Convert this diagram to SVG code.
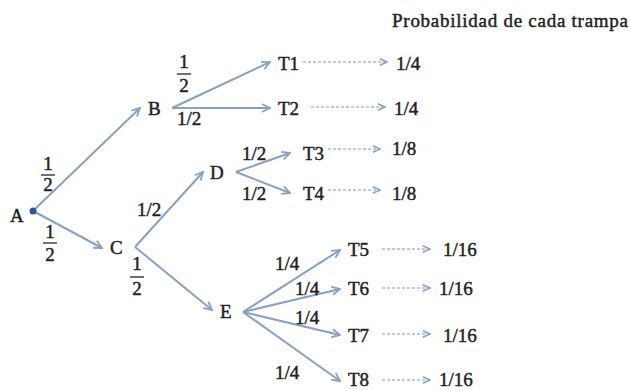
<svg xmlns="http://www.w3.org/2000/svg" width="630" height="391" viewBox="0 0 630 391">
<defs>
<marker id="ah" viewBox="0 0 10 10" refX="9" refY="5" markerWidth="10" markerHeight="10" markerUnits="userSpaceOnUse" orient="auto">
<path d="M1,1 L9,5 L1,9" fill="none" stroke="#8aa0bf" stroke-width="1.8"/>
</marker>
<marker id="ahd" viewBox="0 0 10 10" refX="9" refY="5" markerWidth="9" markerHeight="9" markerUnits="userSpaceOnUse" orient="auto">
<path d="M1,1.5 L9,5 L1,8.5" fill="none" stroke="#8ea2c0" stroke-width="1.8"/>
</marker>
</defs>
<style>
text{font-family:"Liberation Serif","Times New Roman",serif;font-size:19px;fill:#222;stroke:#222;stroke-width:0.45}
.e{stroke:#8aa0bf;stroke-width:2;fill:none;marker-end:url(#ah)}
.d{stroke:#8096b5;stroke-width:1.2;stroke-dasharray:3 2;fill:none;marker-end:url(#ahd)}
.bar{stroke:#222;stroke-width:1.3}
.m{text-anchor:middle}
</style>
<rect width="630" height="391" fill="#fff"/>
<text x="392" y="27" textLength="236">Probabilidad de cada trampa</text>
<g id="connectors">
<line class="e" x1="35" y1="209" x2="140" y2="108"/>
<line class="e" x1="35" y1="212" x2="102" y2="248"/>
<line class="e" x1="172" y1="108" x2="270" y2="62"/>
<line class="e" x1="172" y1="108" x2="270" y2="108"/>
<line class="e" x1="135" y1="247" x2="203" y2="172"/>
<line class="e" x1="135" y1="247" x2="212" y2="310"/>
<line class="e" x1="236" y1="172" x2="290" y2="153"/>
<line class="e" x1="236" y1="172" x2="290" y2="193"/>
<line class="e" x1="243" y1="312" x2="340" y2="250"/>
<line class="e" x1="243" y1="312" x2="340" y2="289"/>
<line class="e" x1="243" y1="312" x2="340" y2="335"/>
<line class="e" x1="243" y1="312" x2="340" y2="381"/>
<line class="d" x1="303" y1="62" x2="387" y2="62"/>
<line class="d" x1="311" y1="107" x2="385" y2="107"/>
<line class="d" x1="328" y1="149" x2="380" y2="149"/>
<line class="d" x1="328" y1="190" x2="380" y2="190"/>
<line class="d" x1="382" y1="249" x2="430" y2="249"/>
<line class="d" x1="382" y1="288" x2="430" y2="288"/>
<line class="d" x1="382" y1="334" x2="430" y2="334"/>
<line class="d" x1="382" y1="380" x2="430" y2="380"/>
</g>
<g id="labels">
<text class="m" x="48" y="170">1</text><line class="bar" x1="41" y1="175" x2="55" y2="175"/><text class="m" x="48" y="191">2</text>
<text class="m" x="50" y="238">1</text><line class="bar" x1="43" y1="243" x2="57" y2="243"/><text class="m" x="50" y="261">2</text>
<text class="m" x="184" y="68">1</text><line class="bar" x1="177" y1="74" x2="191" y2="74"/><text class="m" x="184" y="92">2</text>
<text x="177" y="125">1/2</text>
<text x="137" y="216">1/2</text>
<text class="m" x="137" y="270">1</text><line class="bar" x1="130" y1="277" x2="144" y2="277"/><text class="m" x="137" y="295">2</text>
<text x="242" y="160">1/2</text>
<text x="242" y="200">1/2</text>
<text x="275" y="270">1/4</text>
<text x="295" y="295">1/4</text>
<text x="295" y="324">1/4</text>
<text x="275" y="379">1/4</text>
</g>
<g id="A"><circle cx="33" cy="211" r="3.5" fill="#2f5597"/><text x="10" y="222">A</text></g>
<g id="B"><text x="148" y="115">B</text></g>
<g id="C"><text x="110" y="254">C</text></g>
<g id="D"><text x="210" y="179">D</text></g>
<g id="E"><text x="220" y="318">E</text></g>
<g id="T1"><text x="278" y="70">T1</text></g>
<g id="T2"><text x="278" y="115">T2</text></g>
<g id="T3"><text x="303" y="160">T3</text></g>
<g id="T4"><text x="303" y="200">T4</text></g>
<g id="T5"><text x="348" y="256">T5</text></g>
<g id="T6"><text x="348" y="295">T6</text></g>
<g id="T7"><text x="348" y="342">T7</text></g>
<g id="T8"><text x="348" y="386">T8</text></g>
<g id="P1"><text x="396" y="70">1/4</text></g>
<g id="P2"><text x="394" y="115">1/4</text></g>
<g id="P3"><text x="392" y="155">1/8</text></g>
<g id="P4"><text x="392" y="200">1/8</text></g>
<g id="P5"><text x="443" y="256">1/16</text></g>
<g id="P6"><text x="439" y="295">1/16</text></g>
<g id="P7"><text x="443" y="342">1/16</text></g>
<g id="P8"><text x="439" y="386">1/16</text></g>
</svg>
